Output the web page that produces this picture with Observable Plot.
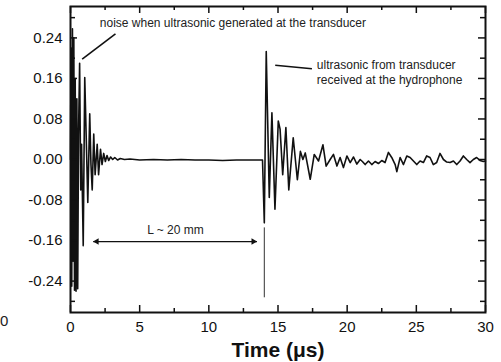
<!DOCTYPE html>
<html><head><meta charset="utf-8">
<script src="https://cdn.jsdelivr.net/npm/d3@7"></script>
<script src="https://cdn.jsdelivr.net/npm/@observablehq/plot@0.6"></script>
<style>
body{margin:0;background:#fff;}
#wrap{position:relative;width:501px;height:362px;overflow:hidden;background:#fff;}
#stray{position:absolute;left:0px;top:312px;font:15px "Liberation Sans",Arial,sans-serif;color:#222;}
</style></head><body><div id="wrap"><span id="stray">0</span></div>
<script>
// Time (µs)
const time = [
  0.00,0.04,0.09,0.14,0.19,0.24,0.29,0.34,0.40,0.46,0.52,0.58,0.66,0.74,0.80,0.92,1.03,1.14,1.25,1.39,
  1.48,1.57,1.68,1.78,1.93,2.03,2.17,2.28,2.40,2.52,2.64,2.76,2.90,3.05,3.20,3.40,3.60,3.90,4.30,5.00,
  6.00,7.00,8.00,9.00,10.00,11.00,12.00,13.00,13.88,
  14.01,14.15,14.37,14.56,14.78,15.02,15.15,15.34,15.57,15.78,16.10,16.40,16.62,16.80,16.97,17.33,17.62,
  17.93,18.25,18.48,18.77,19.01,19.26,19.49,19.73,19.98,20.22,20.46,20.70,20.94,21.10,
  21.30,21.54,21.78,22.02,22.26,22.50,22.74,22.98,23.22,23.47,23.59,23.83,24.07,24.31,24.55,24.79,25.03,
  25.27,25.51,25.75,25.99,26.23,26.47,26.71,26.96,27.20,27.44,27.68,27.92,28.16,28.40,28.64,28.88,29.12,
  29.36,29.60,29.84,30.00
];
// Signal amplitude
const amplitude = [
  0.000,0.220,-0.250,0.258,-0.200,0.240,-0.258,0.160,-0.260,0.120,-0.255,0.050,0.190,-0.060,0.030,-0.170,0.162,0.040,-0.085,0.090,
  -0.010,-0.060,0.050,-0.030,0.030,-0.030,0.020,-0.010,0.012,-0.004,0.008,-0.002,0.005,0.000,0.004,-0.001,0.002,0.000,0.001,-0.001,
  0.000,-0.001,0.000,-0.001,-0.001,-0.002,-0.001,-0.001,-0.001,
  -0.125,0.213,-0.075,0.092,-0.098,0.076,0.060,-0.030,0.063,-0.060,0.043,-0.040,0.016,0.000,0.013,-0.039,0.010,
  -0.003,0.029,-0.013,0.000,0.010,-0.013,0.004,-0.016,0.007,-0.006,0.005,-0.009,0.000,-0.004,
  -0.010,-0.003,-0.010,-0.004,-0.008,-0.002,-0.006,0.014,0.004,-0.010,-0.024,0.004,-0.010,0.007,0.004,-0.003,-0.010,
  -0.003,-0.006,0.007,0.004,-0.010,-0.006,0.012,0.000,-0.005,-0.006,-0.003,-0.010,-0.003,0.007,0.000,-0.006,0.000,
  0.004,-0.002,-0.004,-0.003
];
const xTicks = [0, 5, 10, 15, 20, 25, 30];
const xMinorTicks = [2.5, 7.5, 12.5, 17.5, 22.5, 27.5];
const yTicks = [-0.24, -0.16, -0.08, 0, 0.08, 0.16, 0.24];
const yMinorTicks = [-0.28, -0.20, -0.12, -0.04, 0.04, 0.12, 0.20, 0.28];
const xLabel = "Time (\u03bcs)";

// annotations
const noteText = ["noise when ultrasonic generated at the transducer", "ultrasonic from transducer", "received at the hydrophone", "L ~ 20 mm"];
const noteX = [2.12, 17.81, 17.81, 5.54];
const noteY = [0.262, 0.178, 0.150, -0.147];
const pointerX1 = [0.845, 14.80];
const pointerY1 = [0.198, 0.186];
const pointerX2 = [3.25, 17.45];
const pointerY2 = [0.248, 0.179];
const spanX = [1.64, 13.48];
const spanY = -0.162;
const markerX = 14.01;
const markerY = [-0.135, -0.273];

const signal = time.map((t, i) => ({t, v: amplitude[i]}));
const notes = noteText.map((s, i) => ({s, x: noteX[i], y: noteY[i]}));
const pointers = pointerX1.map((x1, i) => ({x1, y1: pointerY1[i], x2: pointerX2[i], y2: pointerY2[i]}));

const W = 501, H = 362, mL = 70, mR = 16, mT = 6, mB = 50;
const fh = H - mT - mB, fw = W - mL - mR;
const font = "'Liberation Sans', Arial, sans-serif";

const chart = Plot.plot({
  width: W, height: H,
  marginLeft: mL, marginRight: mR, marginTop: mT, marginBottom: mB,
  style: {fontFamily: font, background: "#fff", color: "#111"},
  x: {domain: [0, 30]},
  y: {domain: [-0.302, 0.302]},
  marks: [
    Plot.line(signal, {x: "t", y: "v", stroke: "#111", strokeWidth: 1.6}),
    // ticks (inward)
    Plot.tickX(xTicks, {x: d => d, insetTop: fh - 7, stroke: "#111", strokeWidth: 1.5}),
    Plot.tickX(xTicks, {x: d => d, insetBottom: fh - 7, stroke: "#111", strokeWidth: 1.5}),
    Plot.tickX(xMinorTicks, {x: d => d, insetTop: fh - 4, stroke: "#111", strokeWidth: 1.5}),
    Plot.tickX(xMinorTicks, {x: d => d, insetBottom: fh - 4, stroke: "#111", strokeWidth: 1.5}),
    Plot.tickY(yTicks, {y: d => d, insetRight: fw - 7, stroke: "#111", strokeWidth: 1.5}),
    Plot.tickY(yTicks, {y: d => d, insetLeft: fw - 7, stroke: "#111", strokeWidth: 1.5}),
    Plot.tickY(yMinorTicks, {y: d => d, insetRight: fw - 5, stroke: "#111", strokeWidth: 1.5}),
    Plot.tickY(yMinorTicks, {y: d => d, insetLeft: fw - 5, stroke: "#111", strokeWidth: 1.5}),
    Plot.axisX(xTicks, {tickSize: 0, tickPadding: 9, fontSize: 15, tickFormat: d => String(d), label: null}),
    Plot.axisY(yTicks, {tickSize: 0, tickPadding: 8, fontSize: 15, tickFormat: d => d.toFixed(2), label: null}),
    Plot.text([xLabel], {frameAnchor: "bottom", dy: 44, lineAnchor: "bottom", fontSize: 21, fontWeight: "bold", fill: "#111"}),
    // annotations
    Plot.link(pointers, {x1: "x1", y1: "y1", x2: "x2", y2: "y2", stroke: "#111", strokeWidth: 1.6}),
    Plot.text(notes, {x: "x", y: "y", text: "s", textAnchor: "start", lineAnchor: "bottom", fontSize: 12, fill: "#222"}),
    Plot.link([0], {x1: () => spanX[0], x2: () => spanX[1], y1: () => spanY, y2: () => spanY, stroke: "#111", strokeWidth: 1.3}),
    Plot.dot([0], {x: () => spanX[0], y: () => spanY, symbol: "triangle", r: 2.4, rotate: -90, dx: 3.6, fill: "#111", stroke: null}),
    Plot.dot([0], {x: () => spanX[1], y: () => spanY, symbol: "triangle", r: 2.4, rotate: 90, dx: -3.6, fill: "#111", stroke: null}),
    Plot.ruleX([markerX], {y1: markerY[0], y2: markerY[1], stroke: "#333", strokeWidth: 1}),
    Plot.frame({stroke: "#111", strokeWidth: 2})
  ]
});
document.getElementById("wrap").appendChild(chart);
</script></body></html>
